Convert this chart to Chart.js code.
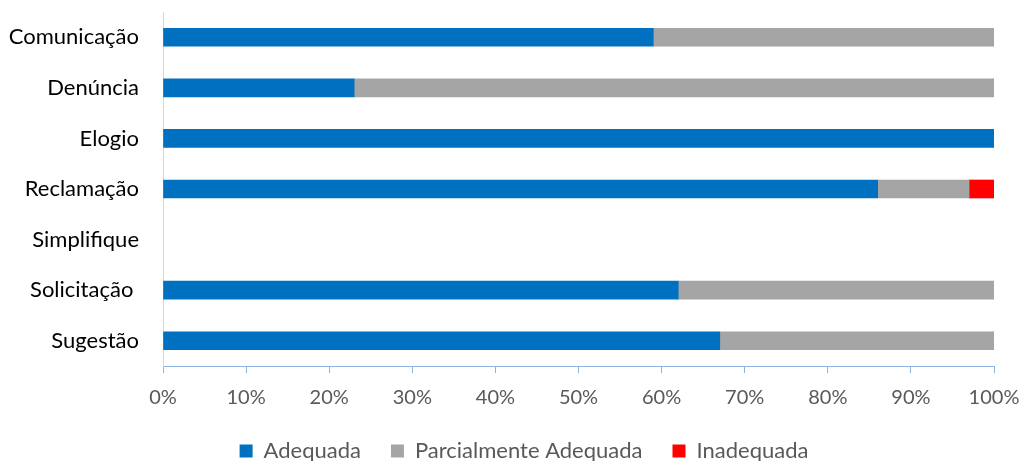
<!DOCTYPE html>
<html>
<head>
<meta charset="utf-8">
<script src="https://cdn.jsdelivr.net/npm/chart.js@4/dist/chart.umd.min.js"></script>
<style>
html,body{margin:0;padding:0;background:#fff;}
#wrap{width:1022px;height:461px;position:relative;}
</style>
</head>
<body>
<div id="wrap"><canvas id="c" width="1022" height="461"></canvas></div>
<script>
const categories = ['Comunicação', 'Denúncia', 'Elogio', 'Reclamação', 'Simplifique', 'Solicitação ', 'Sugestão'];
const adequada = [59, 23, 100, 86, null, 62, 67];
const parcialmente = [41, 77, 0, 11, null, 38, 33];
const inadequada = [0, 0, 0, 3, null, 0, 0];
const xTicks = ['0%', '10%', '20%', '30%', '40%', '50%', '60%', '70%', '80%', '90%', '100%'];

const FONT = 'Lato, "Open Sans", sans-serif';

const legendShift = {
  id: 'legendShift',
  afterLayout(chart) {
    if (chart.legend) { chart.legend.left += 27; chart.legend.right += 27; }
  }
};

new Chart(document.getElementById('c'), {
  type: 'bar',
  data: {
    labels: categories,
    datasets: [
      { label: 'Adequada', data: adequada, backgroundColor: '#0070C0', barThickness: 18 },
      { label: 'Parcialmente Adequada', data: parcialmente, backgroundColor: '#A5A5A5', barThickness: 18 },
      { label: 'Inadequada', data: inadequada, backgroundColor: '#FF0000', barThickness: 18 }
    ]
  },
  plugins: [legendShift],
  options: {
    indexAxis: 'y',
    responsive: false,
    animation: false,
    devicePixelRatio: 1,
    layout: { padding: { left: 0, right: 28, top: 12, bottom: -11 } },
    scales: {
      x: {
        stacked: true,
        min: 0, max: 100,
        ticks: {
          stepSize: 10,
          color: '#595959',
          font: { family: FONT, size: 20 },
          padding: 13,
          callback: (v, i) => xTicks[i]
        },
        grid: { drawOnChartArea: false, color: '#8EB4E3', tickLength: 7 },
        border: { color: '#8EB4E3', width: 1 },
        afterFit: s => { s.height = 44; s.paddingLeft = 0; s.paddingRight = 0; }
      },
      y: {
        stacked: true,
        ticks: { color: '#000000', font: { family: FONT, size: 22 }, padding: 24 },
        grid: { display: false, drawTicks: false },
        border: { color: '#D9D9D9', width: 1 },
        afterFit: s => { s.width = 163; s.paddingTop = 0; s.paddingBottom = 0; }
      }
    },
    plugins: {
      legend: {
        position: 'bottom',
        labels: {
          color: '#595959',
          font: { family: FONT, size: 22 },
          boxWidth: 13, boxHeight: 13,
          padding: 30
        }
      },
      tooltip: { enabled: false }
    }
  }
});
</script>
</body>
</html>
